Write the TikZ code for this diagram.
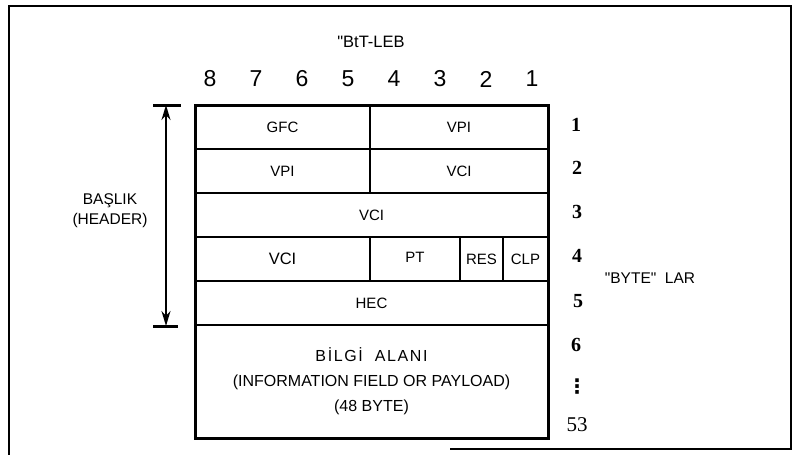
\documentclass[tikz,border=0pt]{standalone}
\usepackage{fontspec}
\setmainfont{Liberation Sans}
\newfontfamily\numfont{Liberation Serif}
\newfontfamily\symfont{DejaVu Sans}
\usepackage{tikz}
\usetikzlibrary{arrows.meta, positioning}
\tikzstyle{cell} = [rectangle, draw=black, line width=2pt, inner sep=0pt, outer sep=0pt, minimum height=44pt, text centered, font=\fontsize{15}{18}\selectfont]
\tikzstyle{tableborder} = [draw=black, line width=3pt]
\tikzstyle{bitnum} = [font=\fontsize{23}{26}\selectfont]
\tikzstyle{bytenum} = [font=\numfont\bfseries\fontsize{20}{22}\selectfont]
\tikzstyle{label} = [align=center, font=\fontsize{15.5}{20}\selectfont]
\tikzstyle{dimarrow} = [line width=2pt, {Stealth[length=15pt, width=9pt]}-{Stealth[length=15pt, width=9pt]}]
\tikzstyle{dimbar} = [line width=3pt]
\tikzstyle{frame} = [line width=2pt]

\begin{document}
\begin{tikzpicture}[x=1pt, y=-1pt]
    \useasboundingbox (0,0) rectangle (795,455);
    % Frame
    \draw [frame] (9,455) -- (9,6) -- (791,6) -- (791,449) -- (450,449);

    % Title and bit numbers
    \node (bitlabel) [font=\fontsize{16.5}{20}\selectfont] at (371,42) {\textquotedbl BtT-LEB};
    \foreach \b [count=\i from 0] in {8,7,6,5,4,3,2,1}
        \node (bit\b) [bitnum] at (210+46*\i,79) {\b};

    % Nodes
    \node (gfc) [cell, minimum width=175pt, anchor=north west] at (195,105) {GFC};
    \node (vpia) [cell, minimum width=178pt, right=0pt of gfc] {VPI};
    \node (vpib) [cell, minimum width=175pt, below right=0pt and 0pt of gfc.south west] {VPI};
    \node (vcia) [cell, minimum width=178pt, right=0pt of vpib] {VCI};
    \node (vcib) [cell, minimum width=353pt, below right=0pt and 0pt of vpib.south west] {VCI};
    \node (vcic) [cell, minimum width=175pt, below right=0pt and 0pt of vcib.south west, font=\fontsize{16.5}{18}\selectfont] {VCI};
    \node (pt) [cell, minimum width=90pt, right=0pt of vcic] {\raisebox{4pt}{PT}};
    \node (res) [cell, minimum width=43pt, right=0pt of pt] {RES};
    \node (clp) [cell, minimum width=45pt, right=0pt of res] {CLP};
    \node (hec) [cell, minimum width=353pt, below right=0pt and 0pt of vcic.south west] {HEC};
    \node (payload) [cell, minimum width=353pt, minimum height=113pt, below right=0pt and 0pt of hec.south west, align=center, font=\fontsize{16}{25}\selectfont]
        {{\addfontfeature{LetterSpace=10}BİLGİ\ \ ALANI}\\(INFORMATION FIELD OR PAYLOAD)\\(48 BYTE)};
    \draw [tableborder] (gfc.north west) rectangle (payload.south east);

    % Byte numbers
    \node (byte1) [bytenum] at (576,125) {1};
    \node (byte2) [bytenum] at (577,168) {2};
    \node (byte3) [bytenum] at (577,212) {3};
    \node (byte4) [bytenum] at (577,256) {4};
    \node (byte5) [bytenum] at (578,301) {5};
    \node (byte6) [bytenum] at (576,345) {6};
    \node (bytedots) [font=\symfont\bfseries\fontsize{20}{22}\selectfont] at (577,387) {⋮};
    \node (byte53) [font=\numfont\fontsize{21}{24}\selectfont] at (577,425) {53};
    \node (bytelabel) [label] at (650,278) {\textquotedbl BYTE\textquotedbl\ \ LAR};

    % Header
    \node (header) [label] at (110,211) {BAŞLIK\\(HEADER)};
    \coordinate (hdrtop) at (166,105);
    \coordinate (hdrbot) at (166,326);
    \draw [dimbar] ([xshift=-13pt]hdrtop) -- ([xshift=15pt]hdrtop);
    \draw [dimbar] ([xshift=-13pt]hdrbot) -- ([xshift=12pt]hdrbot);

    % Arrows
    \draw [dimarrow] (hdrtop) -- (hdrbot);
\end{tikzpicture}
\end{document}
